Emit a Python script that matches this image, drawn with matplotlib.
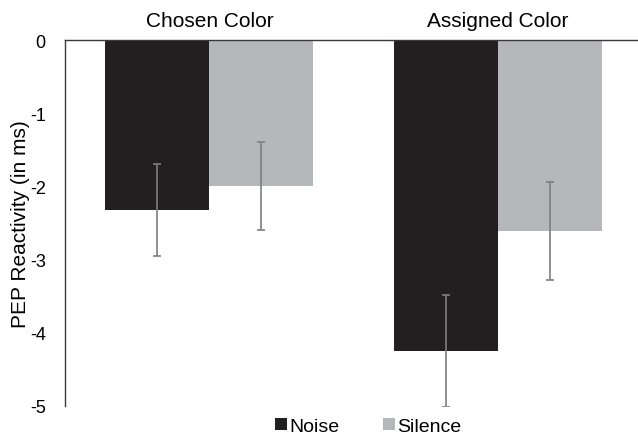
import matplotlib
matplotlib.use("Agg")
import matplotlib.pyplot as plt
import numpy as np
from matplotlib.patches import Patch

plt.rcParams['font.family'] = ['Liberation Sans', 'DejaVu Sans']

categories = ["Chosen Color", "Assigned Color"]
series = ["Noise", "Silence"]
noise = [-2.32, -4.25]
silence = [-2.00, -2.61]
noise_err = [0.63, 0.76]
silence_err = [0.60, 0.67]
yticks = [0, -1, -2, -3, -4, -5]

colors = ["#231f20", "#b6b7ba"]
err_color = "#7f7f7f"

fig = plt.figure(figsize=(6.38, 4.35), dpi=100)
ax = fig.add_axes([0.102, 0.0644, 0.905, 0.8413])

x = np.arange(len(categories))
w = 0.36
ax.bar(x - w/2, noise, w, color=colors[0], linewidth=0)
ax.bar(x + w/2, silence, w, color=colors[1], linewidth=0)
ax.errorbar(x - w/2, noise, yerr=noise_err, fmt='none', ecolor=err_color,
            elinewidth=1.2, capsize=3, capthick=1.2)
ax.errorbar(x + w/2, silence, yerr=silence_err, fmt='none', ecolor=err_color,
            elinewidth=1.2, capsize=3, capthick=1.2)

ax.set_xlim(-0.5, 1.5)
ax.set_ylim(-5, 0)
ax.set_yticks(yticks)
ax.set_yticklabels([str(t) for t in yticks], fontsize=13)
ax.tick_params(axis='y', length=0, pad=14)

ax.xaxis.tick_top()
ax.set_xticks(x)
ax.set_xticklabels(categories, fontsize=15)
ax.tick_params(axis='x', length=0, pad=7)

for s in ['right', 'bottom']:
    ax.spines[s].set_visible(False)
ax.spines['left'].set_color('#3a3a3a')
ax.spines['top'].set_color('#3a3a3a')
ax.spines['left'].set_linewidth(1.0)
ax.spines['top'].set_linewidth(1.0)

ax.set_ylabel("PEP Reactivity (in ms)", fontsize=15, labelpad=0)

handles = [Patch(facecolor=c, edgecolor='none') for c in colors]
fig.legend(handles, series, loc='center', bbox_to_anchor=(0.577, 0.018),
           ncol=2, frameon=False, fontsize=14, handlelength=0.62,
           handleheight=0.62, handletextpad=0.15, columnspacing=2.2,
           borderpad=0)

fig.savefig("out.png", dpi=100)
